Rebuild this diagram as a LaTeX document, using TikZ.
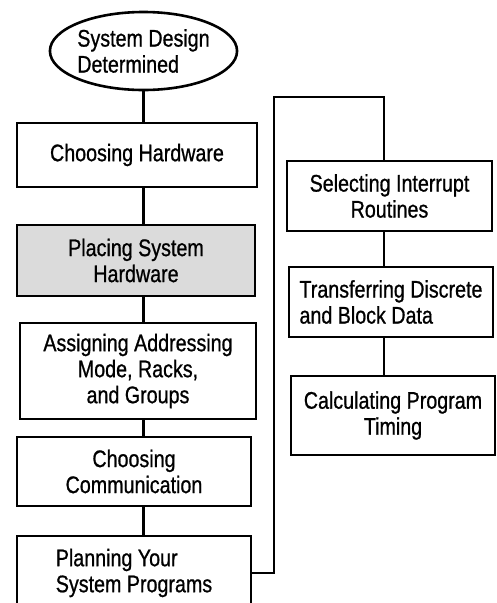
\documentclass[tikz,border=0pt]{standalone}
\usepackage{fontspec}
\setmainfont{Liberation Sans}[FakeStretch=0.82, FakeBold=0.8]
\usetikzlibrary{shapes.geometric}

\begin{document}
\begin{tikzpicture}[x=1pt, y=-1pt, line width=2.6pt,
	font=\fontsize{24}{26}\selectfont,
	blk/.style={draw, rectangle, inner sep=0pt, align=center},
	term/.style={draw, ellipse, inner sep=0pt, align=left}]
	\useasboundingbox (0,0) rectangle (496,603);
	% left column
	\node[term, minimum width=187pt, minimum height=78pt] (sdd) at (143.5,51) {System Design\\Determined};
	\node[blk, minimum width=240pt, minimum height=64pt] (ch) at (137,155) {Choosing Hardware};
	\node[blk, fill=black!14, minimum width=238pt, minimum height=71pt] (psh) at (136,260.5) {Placing System\\Hardware};
	\node[blk, minimum width=236pt, minimum height=96pt] (asg) at (138,371) {Assigning Addressing\\Mode, Racks,\\and Groups};
	\node[blk, minimum width=234pt, minimum height=69pt] (com) at (134,471.5) {Choosing\\Communication};
	\node[blk, align=left, minimum width=234pt, minimum height=74pt] (plan) at (134,573) {Planning Your\\System Programs};
	% right column
	\node[blk, minimum width=205pt, minimum height=70pt] (sel) at (389.5,196) {Selecting Interrupt\\Routines};
	\node[blk, align=left, minimum width=204pt, minimum height=70pt] (tra) at (391,302) {Transferring Discrete\\and Block Data};
	\node[blk, minimum width=204pt, minimum height=79pt] (cal) at (393,415.5) {Calculating Program\\Timing};
	\coordinate (brl) at (274,97);
	\coordinate (brr) at (384,97);
	%\path[->]
	\path
	(sdd.south) edge (ch.north -| sdd.south)
	(ch.south -| sdd.south) edge (psh.north -| sdd.south)
	(psh.south -| sdd.south) edge (asg.north -| sdd.south)
	(asg.south -| sdd.south) edge (com.north -| sdd.south)
	(com.south -| sdd.south) edge (plan.north -| sdd.south)
	(sel.south -| brr) edge (tra.north -| brr)
	(tra.south -| brr) edge (cal.north -| brr)
	;
	\draw (plan.east) -| (brl) -- (brr) -- (sel.north -| brr);
\end{tikzpicture}
\end{document}
